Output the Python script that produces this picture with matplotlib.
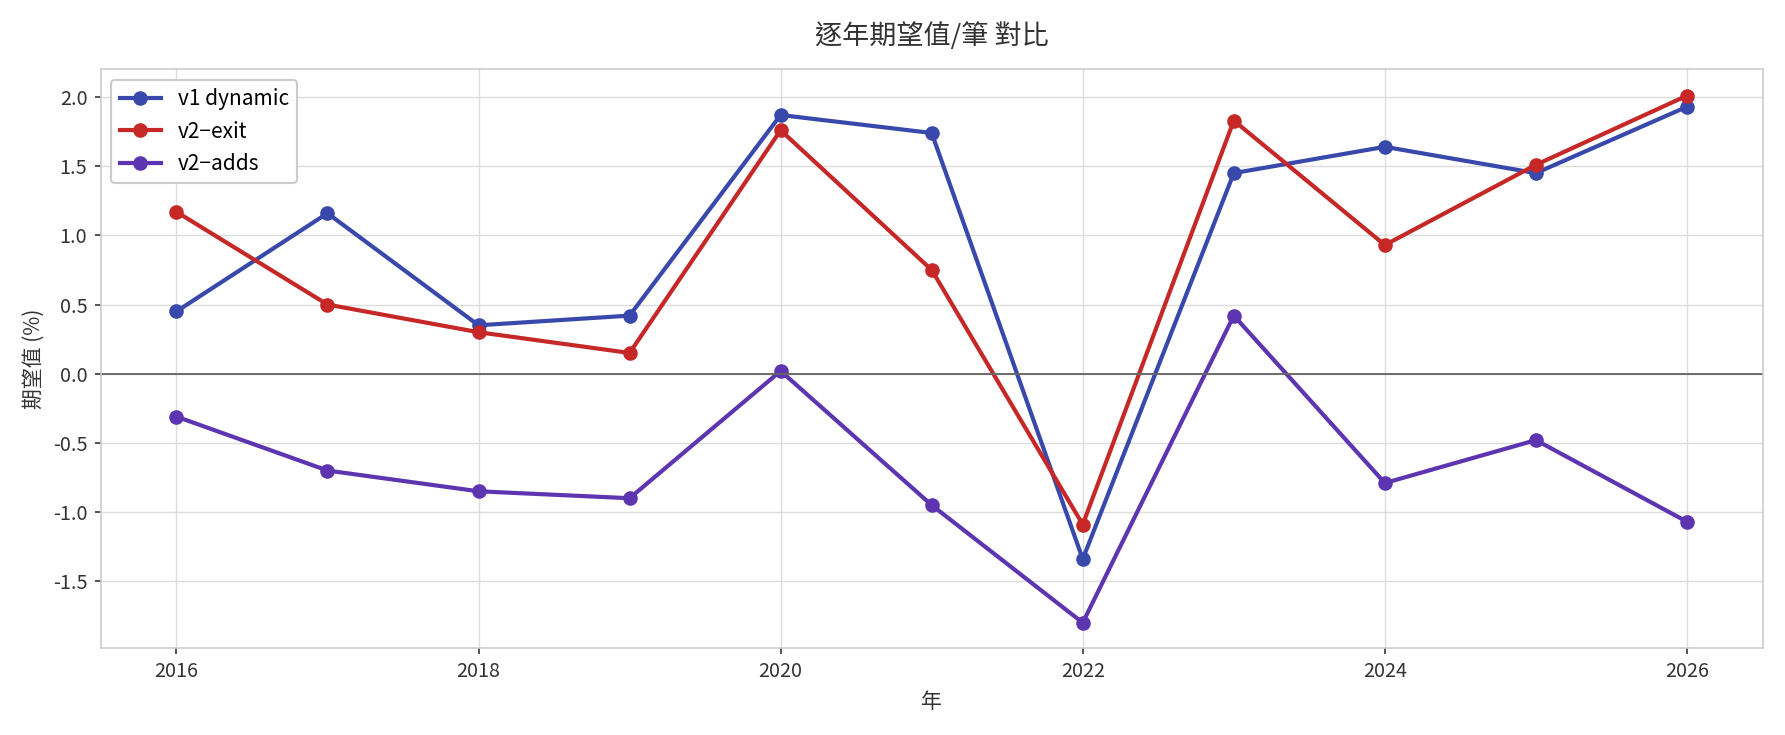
import matplotlib
matplotlib.use('Agg')
import matplotlib.pyplot as plt

plt.rcParams['font.family'] = ['Noto Sans CJK TC', 'DejaVu Sans']
plt.rcParams['axes.unicode_minus'] = False

years = [2016, 2017, 2018, 2019, 2020, 2021, 2022, 2023, 2024, 2025, 2026]
v1_dynamic = [0.45, 1.16, 0.35, 0.42, 1.87, 1.74, -1.34, 1.45, 1.64, 1.45, 1.93]
v2_exit = [1.17, 0.50, 0.30, 0.15, 1.76, 0.75, -1.09, 1.83, 0.93, 1.51, 2.01]
v2_adds = [-0.31, -0.70, -0.85, -0.90, 0.02, -0.95, -1.80, 0.42, -0.79, -0.48, -1.07]

fig, ax = plt.subplots(figsize=(11.9, 4.9), dpi=150)
ax.plot(years, v1_dynamic, marker='o', color='#3949ab', lw=2, ms=6, label='v1 dynamic')
ax.plot(years, v2_exit, marker='o', color='#c62828', lw=2, ms=6, label='v2−exit')
ax.plot(years, v2_adds, marker='o', color='#5e35b1', lw=2, ms=6, label='v2−adds')
ax.axhline(0, color='#666666', lw=0.9)

ax.set_title('逐年期望值/筆 對比', fontsize=13, pad=12, color='#333333')
ax.set_xlabel('年', fontsize=10, color='#333333')
ax.set_ylabel('期望值 (%)', fontsize=10, color='#333333')
ax.set_xticks([2016, 2018, 2020, 2022, 2024, 2026])
ax.set_yticks([-1.5, -1.0, -0.5, 0.0, 0.5, 1.0, 1.5, 2.0])
ax.set_ylim(-1.98, 2.2)
ax.set_xlim(2015.5, 2026.5)
ax.tick_params(labelsize=9.5, colors='#333333', length=3)
ax.grid(True, color='#dddddd', lw=0.7)
for s in ax.spines.values():
    s.set_color('#cccccc')
ax.legend(loc='upper left', fontsize=10, framealpha=1, edgecolor='#cccccc')

fig.tight_layout()
fig.savefig('out.png', dpi=150)
